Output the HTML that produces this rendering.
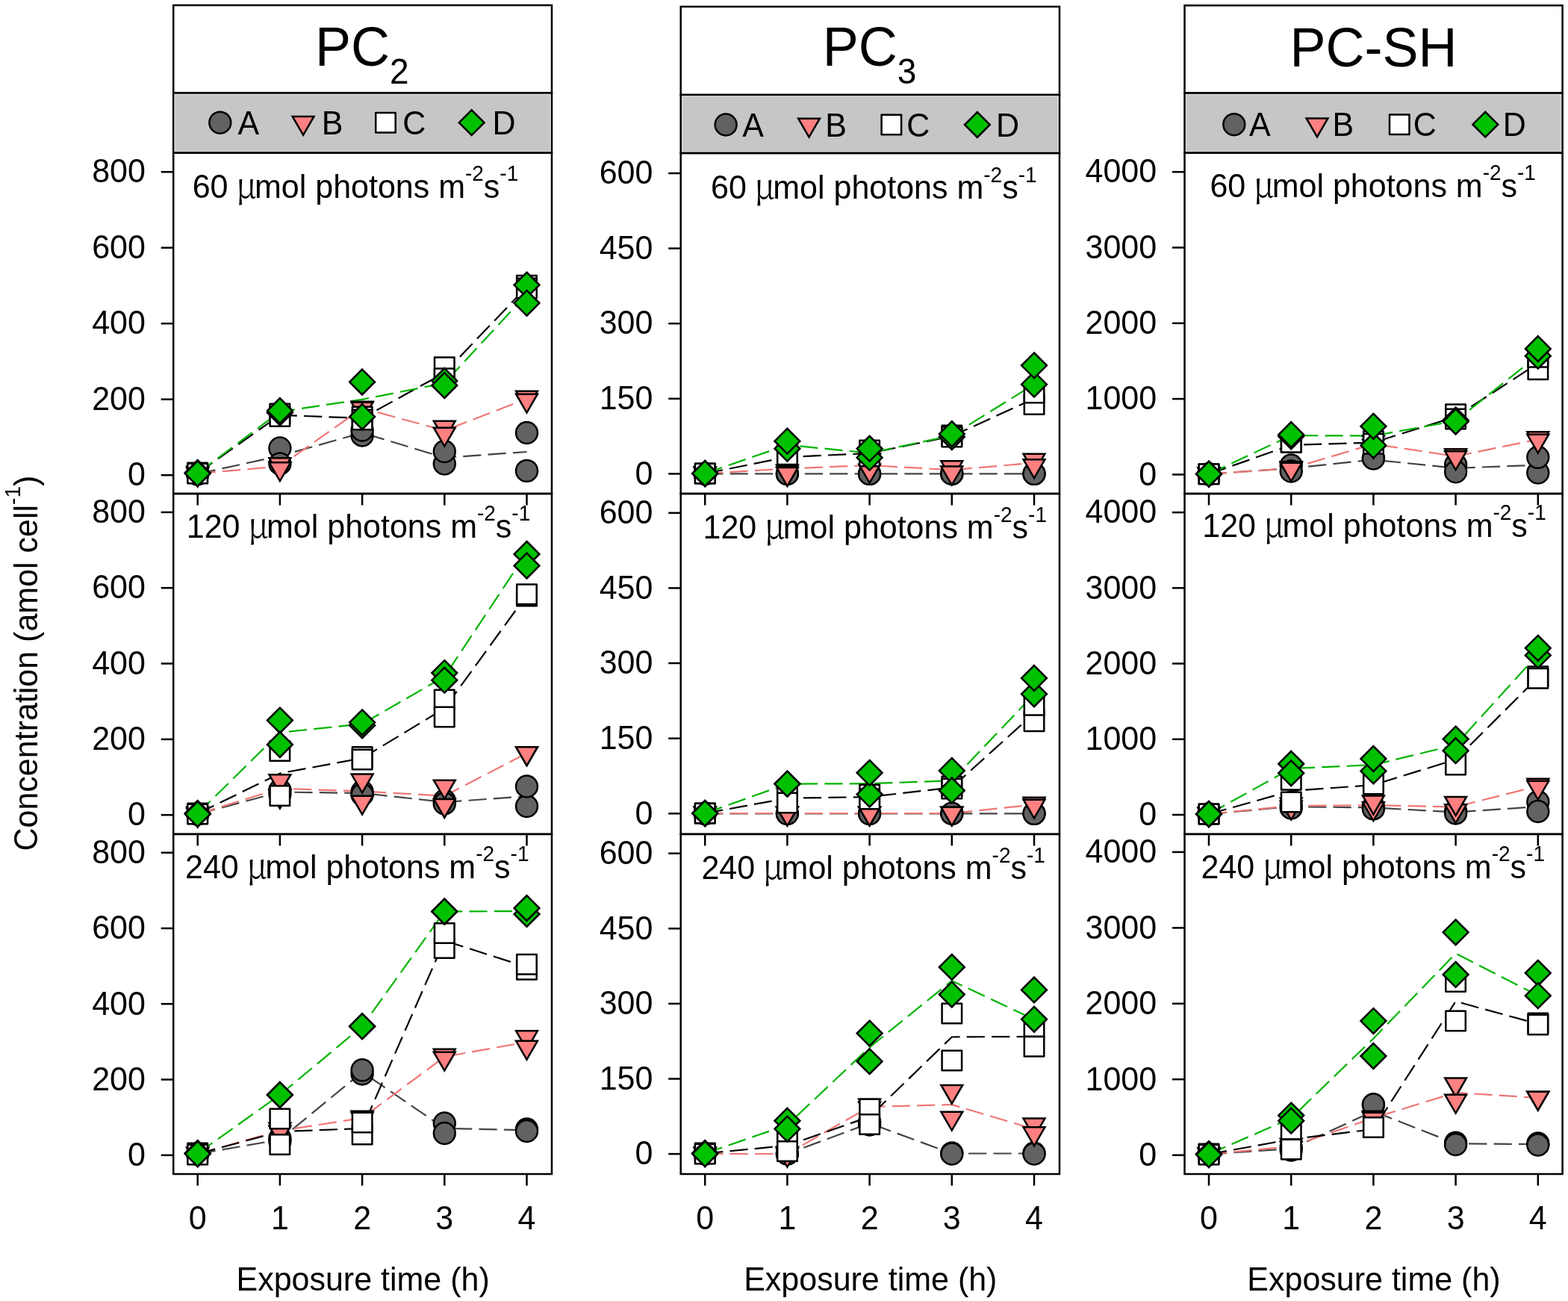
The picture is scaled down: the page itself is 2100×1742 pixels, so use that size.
<!DOCTYPE html><html><head><meta charset="utf-8"><style>html,body{margin:0;padding:0;background:#fff}svg{display:block}text{font-family:"Liberation Sans",Arial,sans-serif;fill:#000}</style></head><body>
<svg width="2100" height="1742" viewBox="0 0 2100 1742">
<rect width="2100" height="1742" fill="#fff"/>
<text transform="translate(49.5,1139.5) rotate(-90) scale(1,1.04)" font-size="43">Concentration (amol cell<tspan dy="-22" font-size="28">-1</tspan><tspan dy="22">)</tspan></text>
<rect x="232.2" y="7.0" width="506.8" height="117.5" fill="#fff" stroke="#000" stroke-width="2.5"/>
<rect x="232.2" y="124.5" width="506.8" height="80.19999999999999" fill="#c6c6c6" stroke="#000" stroke-width="2.5"/>
<rect x="234.39999999999998" y="126.7" width="502.40000000000003" height="75.79999999999998" fill="none" stroke="#d4d4d4" stroke-width="1.6"/>
<text transform="translate(422.0,88.3) scale(1,1.04)" font-size="72">PC<tspan dy="23.2" font-size="46">2</tspan></text>
<circle cx="294.8" cy="164.2" r="14.45" fill="#626262" stroke="#000" stroke-width="2.5"/>
<text transform="translate(318.6,179.9) scale(1,1.04)" font-size="43">A</text>
<path d="M391.7,155.9H420.5L406.1,180.8Z" fill="#ff8080" stroke="#000" stroke-width="2.5" stroke-linejoin="miter"/>
<text transform="translate(430.7,179.9) scale(1,1.04)" font-size="43">B</text>
<rect x="503.2" y="150.9" width="26.5" height="26.5" fill="#fff" stroke="#000" stroke-width="2.5" stroke-linejoin="round"/>
<text transform="translate(539.3,179.9) scale(1,1.04)" font-size="43">C</text>
<path d="M631.7,147.3L648.6,164.2L631.7,181.1L614.8,164.2Z" fill="#00c000" stroke="#000" stroke-width="2.5" stroke-linejoin="miter"/>
<text transform="translate(659.5,179.9) scale(1,1.04)" font-size="43">D</text>
<rect x="232.2" y="204.7" width="506.8" height="456.3" fill="none" stroke="#000" stroke-width="2.5"/>
<line x1="215.7" y1="230.2" x2="232.2" y2="230.2" stroke="#000" stroke-width="2.5"/>
<text transform="translate(194.9,244.4) scale(1,1.04)" font-size="43" text-anchor="end">800</text>
<line x1="215.7" y1="331.7" x2="232.2" y2="331.7" stroke="#000" stroke-width="2.5"/>
<text transform="translate(194.9,345.9) scale(1,1.04)" font-size="43" text-anchor="end">600</text>
<line x1="215.7" y1="433.2" x2="232.2" y2="433.2" stroke="#000" stroke-width="2.5"/>
<text transform="translate(194.9,447.4) scale(1,1.04)" font-size="43" text-anchor="end">400</text>
<line x1="215.7" y1="534.7" x2="232.2" y2="534.7" stroke="#000" stroke-width="2.5"/>
<text transform="translate(194.9,548.9) scale(1,1.04)" font-size="43" text-anchor="end">200</text>
<line x1="215.7" y1="636.2" x2="232.2" y2="636.2" stroke="#000" stroke-width="2.5"/>
<text transform="translate(194.9,650.4) scale(1,1.04)" font-size="43" text-anchor="end">0</text>
<line x1="264.7" y1="661.0" x2="264.7" y2="676.5" stroke="#000" stroke-width="2.5"/>
<line x1="374.9" y1="661.0" x2="374.9" y2="676.5" stroke="#000" stroke-width="2.5"/>
<line x1="485.1" y1="661.0" x2="485.1" y2="676.5" stroke="#000" stroke-width="2.5"/>
<line x1="595.3" y1="661.0" x2="595.3" y2="676.5" stroke="#000" stroke-width="2.5"/>
<line x1="705.5" y1="661.0" x2="705.5" y2="676.5" stroke="#000" stroke-width="2.5"/>
<text transform="translate(257.7,264.7) scale(1,1.04)" font-size="43">60 <tspan font-family="Noto Serif CJK SC, serif" font-size="44" dx="-1.5">μ</tspan><tspan dx="-2.5">mol photons m</tspan><tspan dy="-21.5" font-size="28">-2</tspan><tspan dy="21.5">s</tspan><tspan dy="-21.5" font-size="28">-1</tspan></text>
<g fill="none" stroke-width="2.2" stroke-dasharray="24.2,9.2">
<polyline points="264.7,634.5 374.9,610.5 485.1,579.5 595.3,612.8 705.5,605.0" stroke="#444444"/>
<polyline points="264.7,634.0 374.9,624.5 485.1,546.5 595.3,576.5 705.5,534.0" stroke="#f07676"/>
<polyline points="264.7,633.5 374.9,555.8 485.1,560.0 595.3,499.2 705.5,384.2" stroke="#000000"/>
<polyline points="264.7,633.5 374.9,551.2 485.1,534.8 595.3,513.0 705.5,393.7" stroke="#00b400"/>
</g>
<circle cx="264.7" cy="634.0" r="14.45" fill="#626262" stroke="#000" stroke-width="2.5"/>
<circle cx="264.7" cy="635.0" r="14.45" fill="#626262" stroke="#000" stroke-width="2.5"/>
<circle cx="374.9" cy="600.0" r="14.45" fill="#626262" stroke="#000" stroke-width="2.5"/>
<circle cx="374.9" cy="621.0" r="14.45" fill="#626262" stroke="#000" stroke-width="2.5"/>
<circle cx="485.1" cy="583.0" r="14.45" fill="#626262" stroke="#000" stroke-width="2.5"/>
<circle cx="485.1" cy="576.0" r="14.45" fill="#626262" stroke="#000" stroke-width="2.5"/>
<circle cx="595.3" cy="621.0" r="14.45" fill="#626262" stroke="#000" stroke-width="2.5"/>
<circle cx="595.3" cy="604.5" r="14.45" fill="#626262" stroke="#000" stroke-width="2.5"/>
<circle cx="705.5" cy="579.5" r="14.45" fill="#626262" stroke="#000" stroke-width="2.5"/>
<circle cx="705.5" cy="630.4" r="14.45" fill="#626262" stroke="#000" stroke-width="2.5"/>
<path d="M250.3,624.7H279.1L264.7,649.6Z" fill="#ff8080" stroke="#000" stroke-width="2.5" stroke-linejoin="miter"/>
<path d="M250.3,626.7H279.1L264.7,651.6Z" fill="#ff8080" stroke="#000" stroke-width="2.5" stroke-linejoin="miter"/>
<path d="M360.5,613.2H389.3L374.9,638.1Z" fill="#ff8080" stroke="#000" stroke-width="2.5" stroke-linejoin="miter"/>
<path d="M360.5,619.2H389.3L374.9,644.1Z" fill="#ff8080" stroke="#000" stroke-width="2.5" stroke-linejoin="miter"/>
<path d="M470.7,537.7H499.5L485.1,562.6Z" fill="#ff8080" stroke="#000" stroke-width="2.5" stroke-linejoin="miter"/>
<path d="M470.7,538.7H499.5L485.1,563.6Z" fill="#ff8080" stroke="#000" stroke-width="2.5" stroke-linejoin="miter"/>
<path d="M580.9,563.7H609.7L595.3,588.6Z" fill="#ff8080" stroke="#000" stroke-width="2.5" stroke-linejoin="miter"/>
<path d="M580.9,572.7H609.7L595.3,597.6Z" fill="#ff8080" stroke="#000" stroke-width="2.5" stroke-linejoin="miter"/>
<path d="M691.1,523.7H719.9L705.5,548.6Z" fill="#ff8080" stroke="#000" stroke-width="2.5" stroke-linejoin="miter"/>
<path d="M691.1,527.7H719.9L705.5,552.6Z" fill="#ff8080" stroke="#000" stroke-width="2.5" stroke-linejoin="miter"/>
<rect x="251.4" y="619.8" width="26.5" height="26.5" fill="#fff" stroke="#000" stroke-width="2.5" stroke-linejoin="round"/>
<rect x="251.4" y="620.8" width="26.5" height="26.5" fill="#fff" stroke="#000" stroke-width="2.5" stroke-linejoin="round"/>
<rect x="361.6" y="540.8" width="26.5" height="26.5" fill="#fff" stroke="#000" stroke-width="2.5" stroke-linejoin="round"/>
<rect x="361.6" y="544.2" width="26.5" height="26.5" fill="#fff" stroke="#000" stroke-width="2.5" stroke-linejoin="round"/>
<rect x="471.9" y="544.8" width="26.5" height="26.5" fill="#fff" stroke="#000" stroke-width="2.5" stroke-linejoin="round"/>
<rect x="471.9" y="548.8" width="26.5" height="26.5" fill="#fff" stroke="#000" stroke-width="2.5" stroke-linejoin="round"/>
<rect x="582.0" y="478.4" width="26.5" height="26.5" fill="#fff" stroke="#000" stroke-width="2.5" stroke-linejoin="round"/>
<rect x="582.0" y="493.4" width="26.5" height="26.5" fill="#fff" stroke="#000" stroke-width="2.5" stroke-linejoin="round"/>
<rect x="692.2" y="369.1" width="26.5" height="26.5" fill="#fff" stroke="#000" stroke-width="2.5" stroke-linejoin="round"/>
<rect x="692.2" y="372.8" width="26.5" height="26.5" fill="#fff" stroke="#000" stroke-width="2.5" stroke-linejoin="round"/>
<path d="M264.7,616.1L281.6,633.0L264.7,649.9L247.8,633.0Z" fill="#00c000" stroke="#000" stroke-width="2.5" stroke-linejoin="miter"/>
<path d="M264.7,617.1L281.6,634.0L264.7,650.9L247.8,634.0Z" fill="#00c000" stroke="#000" stroke-width="2.5" stroke-linejoin="miter"/>
<path d="M374.9,535.6L391.8,552.5L374.9,569.4L358.0,552.5Z" fill="#00c000" stroke="#000" stroke-width="2.5" stroke-linejoin="miter"/>
<path d="M374.9,533.1L391.8,550.0L374.9,566.9L358.0,550.0Z" fill="#00c000" stroke="#000" stroke-width="2.5" stroke-linejoin="miter"/>
<path d="M485.1,494.6L502.0,511.5L485.1,528.4L468.2,511.5Z" fill="#00c000" stroke="#000" stroke-width="2.5" stroke-linejoin="miter"/>
<path d="M485.1,541.1L502.0,558.0L485.1,574.9L468.2,558.0Z" fill="#00c000" stroke="#000" stroke-width="2.5" stroke-linejoin="miter"/>
<path d="M595.3,493.1L612.2,510.0L595.3,526.9L578.4,510.0Z" fill="#00c000" stroke="#000" stroke-width="2.5" stroke-linejoin="miter"/>
<path d="M595.3,499.1L612.2,516.0L595.3,532.9L578.4,516.0Z" fill="#00c000" stroke="#000" stroke-width="2.5" stroke-linejoin="miter"/>
<path d="M705.5,364.7L722.4,381.6L705.5,398.5L688.6,381.6Z" fill="#00c000" stroke="#000" stroke-width="2.5" stroke-linejoin="miter"/>
<path d="M705.5,388.9L722.4,405.8L705.5,422.7L688.6,405.8Z" fill="#00c000" stroke="#000" stroke-width="2.5" stroke-linejoin="miter"/>
<rect x="232.2" y="661.0" width="506.8" height="455.9000000000001" fill="none" stroke="#000" stroke-width="2.5"/>
<line x1="215.7" y1="685.9" x2="232.2" y2="685.9" stroke="#000" stroke-width="2.5"/>
<text transform="translate(194.9,700.1) scale(1,1.04)" font-size="43" text-anchor="end">800</text>
<line x1="215.7" y1="787.2" x2="232.2" y2="787.2" stroke="#000" stroke-width="2.5"/>
<text transform="translate(194.9,801.4) scale(1,1.04)" font-size="43" text-anchor="end">600</text>
<line x1="215.7" y1="888.5" x2="232.2" y2="888.5" stroke="#000" stroke-width="2.5"/>
<text transform="translate(194.9,902.8) scale(1,1.04)" font-size="43" text-anchor="end">400</text>
<line x1="215.7" y1="989.9" x2="232.2" y2="989.9" stroke="#000" stroke-width="2.5"/>
<text transform="translate(194.9,1004.1) scale(1,1.04)" font-size="43" text-anchor="end">200</text>
<line x1="215.7" y1="1091.2" x2="232.2" y2="1091.2" stroke="#000" stroke-width="2.5"/>
<text transform="translate(194.9,1105.4) scale(1,1.04)" font-size="43" text-anchor="end">0</text>
<line x1="264.7" y1="1116.9" x2="264.7" y2="1132.4" stroke="#000" stroke-width="2.5"/>
<line x1="374.9" y1="1116.9" x2="374.9" y2="1132.4" stroke="#000" stroke-width="2.5"/>
<line x1="485.1" y1="1116.9" x2="485.1" y2="1132.4" stroke="#000" stroke-width="2.5"/>
<line x1="595.3" y1="1116.9" x2="595.3" y2="1132.4" stroke="#000" stroke-width="2.5"/>
<line x1="705.5" y1="1116.9" x2="705.5" y2="1132.4" stroke="#000" stroke-width="2.5"/>
<text transform="translate(249.8,719.8) scale(1,1.04)" font-size="43">120 <tspan font-family="Noto Serif CJK SC, serif" font-size="44" dx="-1.5">μ</tspan><tspan dx="-2.5">mol photons m</tspan><tspan dy="-21.5" font-size="28">-2</tspan><tspan dy="21.5">s</tspan><tspan dy="-21.5" font-size="28">-1</tspan></text>
<g fill="none" stroke-width="2.2" stroke-dasharray="24.2,9.2">
<polyline points="264.7,1090.0 374.9,1060.5 485.1,1062.0 595.3,1074.0 705.5,1066.2" stroke="#444444"/>
<polyline points="264.7,1090.0 374.9,1055.8 485.1,1059.5 595.3,1065.7 705.5,1008.5" stroke="#f07676"/>
<polyline points="264.7,1089.5 374.9,1035.5 485.1,1015.2 595.3,948.5 705.5,796.8" stroke="#000000"/>
<polyline points="264.7,1089.5 374.9,980.8 485.1,969.3 595.3,905.9 705.5,740.0" stroke="#00b400"/>
</g>
<circle cx="264.7" cy="1090.0" r="14.45" fill="#626262" stroke="#000" stroke-width="2.5"/>
<circle cx="264.7" cy="1090.0" r="14.45" fill="#626262" stroke="#000" stroke-width="2.5"/>
<circle cx="374.9" cy="1058.0" r="14.45" fill="#626262" stroke="#000" stroke-width="2.5"/>
<circle cx="374.9" cy="1063.0" r="14.45" fill="#626262" stroke="#000" stroke-width="2.5"/>
<circle cx="485.1" cy="1060.0" r="14.45" fill="#626262" stroke="#000" stroke-width="2.5"/>
<circle cx="485.1" cy="1064.0" r="14.45" fill="#626262" stroke="#000" stroke-width="2.5"/>
<circle cx="595.3" cy="1072.0" r="14.45" fill="#626262" stroke="#000" stroke-width="2.5"/>
<circle cx="595.3" cy="1076.0" r="14.45" fill="#626262" stroke="#000" stroke-width="2.5"/>
<circle cx="705.5" cy="1079.5" r="14.45" fill="#626262" stroke="#000" stroke-width="2.5"/>
<circle cx="705.5" cy="1053.0" r="14.45" fill="#626262" stroke="#000" stroke-width="2.5"/>
<path d="M250.3,1080.7H279.1L264.7,1105.6Z" fill="#ff8080" stroke="#000" stroke-width="2.5" stroke-linejoin="miter"/>
<path d="M250.3,1082.7H279.1L264.7,1107.6Z" fill="#ff8080" stroke="#000" stroke-width="2.5" stroke-linejoin="miter"/>
<path d="M360.5,1037.2H389.3L374.9,1062.1Z" fill="#ff8080" stroke="#000" stroke-width="2.5" stroke-linejoin="miter"/>
<path d="M360.5,1057.7H389.3L374.9,1082.6Z" fill="#ff8080" stroke="#000" stroke-width="2.5" stroke-linejoin="miter"/>
<path d="M470.7,1036.6H499.5L485.1,1061.5Z" fill="#ff8080" stroke="#000" stroke-width="2.5" stroke-linejoin="miter"/>
<path d="M470.7,1065.7H499.5L485.1,1090.6Z" fill="#ff8080" stroke="#000" stroke-width="2.5" stroke-linejoin="miter"/>
<path d="M580.9,1044.7H609.7L595.3,1069.6Z" fill="#ff8080" stroke="#000" stroke-width="2.5" stroke-linejoin="miter"/>
<path d="M580.9,1070.0H609.7L595.3,1094.9Z" fill="#ff8080" stroke="#000" stroke-width="2.5" stroke-linejoin="miter"/>
<path d="M691.1,1000.2H719.9L705.5,1025.1Z" fill="#ff8080" stroke="#000" stroke-width="2.5" stroke-linejoin="miter"/>
<path d="M691.1,1000.2H719.9L705.5,1025.1Z" fill="#ff8080" stroke="#000" stroke-width="2.5" stroke-linejoin="miter"/>
<rect x="251.4" y="1075.8" width="26.5" height="26.5" fill="#fff" stroke="#000" stroke-width="2.5" stroke-linejoin="round"/>
<rect x="251.4" y="1076.8" width="26.5" height="26.5" fill="#fff" stroke="#000" stroke-width="2.5" stroke-linejoin="round"/>
<rect x="361.6" y="992.2" width="26.5" height="26.5" fill="#fff" stroke="#000" stroke-width="2.5" stroke-linejoin="round"/>
<rect x="361.6" y="1052.3" width="26.5" height="26.5" fill="#fff" stroke="#000" stroke-width="2.5" stroke-linejoin="round"/>
<rect x="471.9" y="1000.2" width="26.5" height="26.5" fill="#fff" stroke="#000" stroke-width="2.5" stroke-linejoin="round"/>
<rect x="471.9" y="1003.8" width="26.5" height="26.5" fill="#fff" stroke="#000" stroke-width="2.5" stroke-linejoin="round"/>
<rect x="582.0" y="923.8" width="26.5" height="26.5" fill="#fff" stroke="#000" stroke-width="2.5" stroke-linejoin="round"/>
<rect x="582.0" y="946.8" width="26.5" height="26.5" fill="#fff" stroke="#000" stroke-width="2.5" stroke-linejoin="round"/>
<rect x="692.2" y="784.8" width="26.5" height="26.5" fill="#fff" stroke="#000" stroke-width="2.5" stroke-linejoin="round"/>
<rect x="692.2" y="782.4" width="26.5" height="26.5" fill="#fff" stroke="#000" stroke-width="2.5" stroke-linejoin="round"/>
<path d="M264.7,1072.1L281.6,1089.0L264.7,1105.9L247.8,1089.0Z" fill="#00c000" stroke="#000" stroke-width="2.5" stroke-linejoin="miter"/>
<path d="M264.7,1073.1L281.6,1090.0L264.7,1106.9L247.8,1090.0Z" fill="#00c000" stroke="#000" stroke-width="2.5" stroke-linejoin="miter"/>
<path d="M374.9,947.7L391.8,964.6L374.9,981.5L358.0,964.6Z" fill="#00c000" stroke="#000" stroke-width="2.5" stroke-linejoin="miter"/>
<path d="M374.9,980.1L391.8,997.0L374.9,1013.9L358.0,997.0Z" fill="#00c000" stroke="#000" stroke-width="2.5" stroke-linejoin="miter"/>
<path d="M485.1,954.4L502.0,971.3L485.1,988.2L468.2,971.3Z" fill="#00c000" stroke="#000" stroke-width="2.5" stroke-linejoin="miter"/>
<path d="M485.1,950.4L502.0,967.3L485.1,984.2L468.2,967.3Z" fill="#00c000" stroke="#000" stroke-width="2.5" stroke-linejoin="miter"/>
<path d="M595.3,884.2L612.2,901.1L595.3,918.0L578.4,901.1Z" fill="#00c000" stroke="#000" stroke-width="2.5" stroke-linejoin="miter"/>
<path d="M595.3,893.8L612.2,910.7L595.3,927.6L578.4,910.7Z" fill="#00c000" stroke="#000" stroke-width="2.5" stroke-linejoin="miter"/>
<path d="M705.5,725.0L722.4,741.9L705.5,758.8L688.6,741.9Z" fill="#00c000" stroke="#000" stroke-width="2.5" stroke-linejoin="miter"/>
<path d="M705.5,740.6L722.4,757.5L705.5,774.4L688.6,757.5Z" fill="#00c000" stroke="#000" stroke-width="2.5" stroke-linejoin="miter"/>
<rect x="232.2" y="1116.9" width="506.8" height="455.0999999999999" fill="none" stroke="#000" stroke-width="2.5"/>
<line x1="215.7" y1="1141.7" x2="232.2" y2="1141.7" stroke="#000" stroke-width="2.5"/>
<text transform="translate(194.9,1155.9) scale(1,1.04)" font-size="43" text-anchor="end">800</text>
<line x1="215.7" y1="1243.0" x2="232.2" y2="1243.0" stroke="#000" stroke-width="2.5"/>
<text transform="translate(194.9,1257.2) scale(1,1.04)" font-size="43" text-anchor="end">600</text>
<line x1="215.7" y1="1344.2" x2="232.2" y2="1344.2" stroke="#000" stroke-width="2.5"/>
<text transform="translate(194.9,1358.5) scale(1,1.04)" font-size="43" text-anchor="end">400</text>
<line x1="215.7" y1="1445.5" x2="232.2" y2="1445.5" stroke="#000" stroke-width="2.5"/>
<text transform="translate(194.9,1459.7) scale(1,1.04)" font-size="43" text-anchor="end">200</text>
<line x1="215.7" y1="1546.8" x2="232.2" y2="1546.8" stroke="#000" stroke-width="2.5"/>
<text transform="translate(194.9,1561.0) scale(1,1.04)" font-size="43" text-anchor="end">0</text>
<line x1="264.7" y1="1572.0" x2="264.7" y2="1587.5" stroke="#000" stroke-width="2.5"/>
<line x1="374.9" y1="1572.0" x2="374.9" y2="1587.5" stroke="#000" stroke-width="2.5"/>
<line x1="485.1" y1="1572.0" x2="485.1" y2="1587.5" stroke="#000" stroke-width="2.5"/>
<line x1="595.3" y1="1572.0" x2="595.3" y2="1587.5" stroke="#000" stroke-width="2.5"/>
<line x1="705.5" y1="1572.0" x2="705.5" y2="1587.5" stroke="#000" stroke-width="2.5"/>
<text transform="translate(248.0,1175.7) scale(1,1.04)" font-size="43">240 <tspan font-family="Noto Serif CJK SC, serif" font-size="44" dx="-1.5">μ</tspan><tspan dx="-2.5">mol photons m</tspan><tspan dy="-21.5" font-size="28">-2</tspan><tspan dy="21.5">s</tspan><tspan dy="-21.5" font-size="28">-1</tspan></text>
<g fill="none" stroke-width="2.2" stroke-dasharray="24.2,9.2">
<polyline points="264.7,1545.0 374.9,1526.0 485.1,1435.4 595.3,1510.8 705.5,1513.2" stroke="#444444"/>
<polyline points="264.7,1545.0 374.9,1514.0 485.1,1497.0 595.3,1415.0 705.5,1395.3" stroke="#f07676"/>
<polyline points="264.7,1545.0 374.9,1515.2 485.1,1511.0 595.3,1259.5 705.5,1294.8" stroke="#000000"/>
<polyline points="264.7,1544.5 374.9,1466.0 485.1,1374.2 595.3,1220.5 705.5,1220.0" stroke="#00b400"/>
</g>
<circle cx="264.7" cy="1545.0" r="14.45" fill="#626262" stroke="#000" stroke-width="2.5"/>
<circle cx="264.7" cy="1545.0" r="14.45" fill="#626262" stroke="#000" stroke-width="2.5"/>
<circle cx="374.9" cy="1524.0" r="14.45" fill="#626262" stroke="#000" stroke-width="2.5"/>
<circle cx="374.9" cy="1528.0" r="14.45" fill="#626262" stroke="#000" stroke-width="2.5"/>
<circle cx="485.1" cy="1438.0" r="14.45" fill="#626262" stroke="#000" stroke-width="2.5"/>
<circle cx="485.1" cy="1432.8" r="14.45" fill="#626262" stroke="#000" stroke-width="2.5"/>
<circle cx="595.3" cy="1504.0" r="14.45" fill="#626262" stroke="#000" stroke-width="2.5"/>
<circle cx="595.3" cy="1517.5" r="14.45" fill="#626262" stroke="#000" stroke-width="2.5"/>
<circle cx="705.5" cy="1512.0" r="14.45" fill="#626262" stroke="#000" stroke-width="2.5"/>
<circle cx="705.5" cy="1514.5" r="14.45" fill="#626262" stroke="#000" stroke-width="2.5"/>
<path d="M250.3,1536.7H279.1L264.7,1561.6Z" fill="#ff8080" stroke="#000" stroke-width="2.5" stroke-linejoin="miter"/>
<path d="M250.3,1536.7H279.1L264.7,1561.6Z" fill="#ff8080" stroke="#000" stroke-width="2.5" stroke-linejoin="miter"/>
<path d="M360.5,1503.7H389.3L374.9,1528.6Z" fill="#ff8080" stroke="#000" stroke-width="2.5" stroke-linejoin="miter"/>
<path d="M360.5,1507.7H389.3L374.9,1532.6Z" fill="#ff8080" stroke="#000" stroke-width="2.5" stroke-linejoin="miter"/>
<path d="M470.7,1487.7H499.5L485.1,1512.6Z" fill="#ff8080" stroke="#000" stroke-width="2.5" stroke-linejoin="miter"/>
<path d="M470.7,1489.7H499.5L485.1,1514.6Z" fill="#ff8080" stroke="#000" stroke-width="2.5" stroke-linejoin="miter"/>
<path d="M580.9,1404.7H609.7L595.3,1429.6Z" fill="#ff8080" stroke="#000" stroke-width="2.5" stroke-linejoin="miter"/>
<path d="M580.9,1408.7H609.7L595.3,1433.6Z" fill="#ff8080" stroke="#000" stroke-width="2.5" stroke-linejoin="miter"/>
<path d="M691.1,1380.3H719.9L705.5,1405.2Z" fill="#ff8080" stroke="#000" stroke-width="2.5" stroke-linejoin="miter"/>
<path d="M691.1,1393.8H719.9L705.5,1418.7Z" fill="#ff8080" stroke="#000" stroke-width="2.5" stroke-linejoin="miter"/>
<rect x="251.4" y="1530.8" width="26.5" height="26.5" fill="#fff" stroke="#000" stroke-width="2.5" stroke-linejoin="round"/>
<rect x="251.4" y="1532.8" width="26.5" height="26.5" fill="#fff" stroke="#000" stroke-width="2.5" stroke-linejoin="round"/>
<rect x="361.6" y="1484.8" width="26.5" height="26.5" fill="#fff" stroke="#000" stroke-width="2.5" stroke-linejoin="round"/>
<rect x="361.6" y="1519.2" width="26.5" height="26.5" fill="#fff" stroke="#000" stroke-width="2.5" stroke-linejoin="round"/>
<rect x="471.9" y="1505.8" width="26.5" height="26.5" fill="#fff" stroke="#000" stroke-width="2.5" stroke-linejoin="round"/>
<rect x="471.9" y="1489.8" width="26.5" height="26.5" fill="#fff" stroke="#000" stroke-width="2.5" stroke-linejoin="round"/>
<rect x="582.0" y="1256.2" width="26.5" height="26.5" fill="#fff" stroke="#000" stroke-width="2.5" stroke-linejoin="round"/>
<rect x="582.0" y="1236.3" width="26.5" height="26.5" fill="#fff" stroke="#000" stroke-width="2.5" stroke-linejoin="round"/>
<rect x="692.2" y="1285.0" width="26.5" height="26.5" fill="#fff" stroke="#000" stroke-width="2.5" stroke-linejoin="round"/>
<rect x="692.2" y="1278.0" width="26.5" height="26.5" fill="#fff" stroke="#000" stroke-width="2.5" stroke-linejoin="round"/>
<path d="M264.7,1527.1L281.6,1544.0L264.7,1560.9L247.8,1544.0Z" fill="#00c000" stroke="#000" stroke-width="2.5" stroke-linejoin="miter"/>
<path d="M264.7,1528.1L281.6,1545.0L264.7,1561.9L247.8,1545.0Z" fill="#00c000" stroke="#000" stroke-width="2.5" stroke-linejoin="miter"/>
<path d="M374.9,1449.1L391.8,1466.0L374.9,1482.9L358.0,1466.0Z" fill="#00c000" stroke="#000" stroke-width="2.5" stroke-linejoin="miter"/>
<path d="M374.9,1449.1L391.8,1466.0L374.9,1482.9L358.0,1466.0Z" fill="#00c000" stroke="#000" stroke-width="2.5" stroke-linejoin="miter"/>
<path d="M485.1,1357.3L502.0,1374.2L485.1,1391.1L468.2,1374.2Z" fill="#00c000" stroke="#000" stroke-width="2.5" stroke-linejoin="miter"/>
<path d="M485.1,1357.3L502.0,1374.2L485.1,1391.1L468.2,1374.2Z" fill="#00c000" stroke="#000" stroke-width="2.5" stroke-linejoin="miter"/>
<path d="M595.3,1203.6L612.2,1220.5L595.3,1237.4L578.4,1220.5Z" fill="#00c000" stroke="#000" stroke-width="2.5" stroke-linejoin="miter"/>
<path d="M595.3,1203.6L612.2,1220.5L595.3,1237.4L578.4,1220.5Z" fill="#00c000" stroke="#000" stroke-width="2.5" stroke-linejoin="miter"/>
<path d="M705.5,1207.0L722.4,1223.9L705.5,1240.8L688.6,1223.9Z" fill="#00c000" stroke="#000" stroke-width="2.5" stroke-linejoin="miter"/>
<path d="M705.5,1199.1L722.4,1216.0L705.5,1232.9L688.6,1216.0Z" fill="#00c000" stroke="#000" stroke-width="2.5" stroke-linejoin="miter"/>
<text transform="translate(264.7,1646.0) scale(1,1.04)" font-size="43" text-anchor="middle">0</text>
<text transform="translate(374.9,1646.0) scale(1,1.04)" font-size="43" text-anchor="middle">1</text>
<text transform="translate(485.1,1646.0) scale(1,1.04)" font-size="43" text-anchor="middle">2</text>
<text transform="translate(595.3,1646.0) scale(1,1.04)" font-size="43" text-anchor="middle">3</text>
<text transform="translate(705.5,1646.0) scale(1,1.04)" font-size="43" text-anchor="middle">4</text>
<text transform="translate(486.1,1727.5) scale(1,1.04)" font-size="43" text-anchor="middle">Exposure time (h)</text>
<rect x="911.7" y="8.9" width="507.29999999999995" height="118.1" fill="#fff" stroke="#000" stroke-width="2.5"/>
<rect x="911.7" y="127.0" width="507.29999999999995" height="78.0" fill="#c6c6c6" stroke="#000" stroke-width="2.5"/>
<rect x="913.9000000000001" y="129.2" width="502.9" height="73.6" fill="none" stroke="#d4d4d4" stroke-width="1.6"/>
<text transform="translate(1101.8,88.3) scale(1,1.04)" font-size="72">PC<tspan dy="23.2" font-size="46">3</tspan></text>
<circle cx="972.1" cy="167.0" r="14.45" fill="#626262" stroke="#000" stroke-width="2.5"/>
<text transform="translate(994.2,182.6) scale(1,1.04)" font-size="43">A</text>
<path d="M1069.1,158.7H1097.9L1083.5,183.6Z" fill="#ff8080" stroke="#000" stroke-width="2.5" stroke-linejoin="miter"/>
<text transform="translate(1105.2,182.6) scale(1,1.04)" font-size="43">B</text>
<rect x="1180.6" y="153.8" width="26.5" height="26.5" fill="#fff" stroke="#000" stroke-width="2.5" stroke-linejoin="round"/>
<text transform="translate(1214.3,182.6) scale(1,1.04)" font-size="43">C</text>
<path d="M1308.9,150.1L1325.8,167.0L1308.9,183.9L1292.0,167.0Z" fill="#00c000" stroke="#000" stroke-width="2.5" stroke-linejoin="miter"/>
<text transform="translate(1334.1,182.6) scale(1,1.04)" font-size="43">D</text>
<rect x="911.7" y="205.0" width="507.29999999999995" height="456.0" fill="none" stroke="#000" stroke-width="2.5"/>
<line x1="895.2" y1="232.0" x2="911.7" y2="232.0" stroke="#000" stroke-width="2.5"/>
<text transform="translate(874.4,246.2) scale(1,1.04)" font-size="43" text-anchor="end">600</text>
<line x1="895.2" y1="332.6" x2="911.7" y2="332.6" stroke="#000" stroke-width="2.5"/>
<text transform="translate(874.4,346.8) scale(1,1.04)" font-size="43" text-anchor="end">450</text>
<line x1="895.2" y1="433.2" x2="911.7" y2="433.2" stroke="#000" stroke-width="2.5"/>
<text transform="translate(874.4,447.4) scale(1,1.04)" font-size="43" text-anchor="end">300</text>
<line x1="895.2" y1="533.8" x2="911.7" y2="533.8" stroke="#000" stroke-width="2.5"/>
<text transform="translate(874.4,548.0) scale(1,1.04)" font-size="43" text-anchor="end">150</text>
<line x1="895.2" y1="634.4" x2="911.7" y2="634.4" stroke="#000" stroke-width="2.5"/>
<text transform="translate(874.4,648.6) scale(1,1.04)" font-size="43" text-anchor="end">0</text>
<line x1="944.2" y1="661.0" x2="944.2" y2="676.5" stroke="#000" stroke-width="2.5"/>
<line x1="1054.4" y1="661.0" x2="1054.4" y2="676.5" stroke="#000" stroke-width="2.5"/>
<line x1="1164.6" y1="661.0" x2="1164.6" y2="676.5" stroke="#000" stroke-width="2.5"/>
<line x1="1274.8" y1="661.0" x2="1274.8" y2="676.5" stroke="#000" stroke-width="2.5"/>
<line x1="1385.0" y1="661.0" x2="1385.0" y2="676.5" stroke="#000" stroke-width="2.5"/>
<text transform="translate(952.0,265.9) scale(1,1.04)" font-size="43">60 <tspan font-family="Noto Serif CJK SC, serif" font-size="44" dx="-1.5">μ</tspan><tspan dx="-2.5">mol photons m</tspan><tspan dy="-21.5" font-size="28">-2</tspan><tspan dy="21.5">s</tspan><tspan dy="-21.5" font-size="28">-1</tspan></text>
<g fill="none" stroke-width="2.2" stroke-dasharray="24.2,9.2">
<polyline points="944.2,634.4 1054.4,634.4 1164.6,634.4 1274.8,634.4 1385.0,634.4" stroke="#444444"/>
<polyline points="944.2,634.0 1054.4,627.5 1164.6,623.0 1274.8,629.2 1385.0,619.8" stroke="#f07676"/>
<polyline points="944.2,634.0 1054.4,612.0 1164.6,607.0 1274.8,584.0 1385.0,533.8" stroke="#000000"/>
<polyline points="944.2,634.0 1054.4,595.7 1164.6,606.7 1274.8,583.0 1385.0,514.5" stroke="#00b400"/>
</g>
<circle cx="944.2" cy="634.4" r="14.45" fill="#626262" stroke="#000" stroke-width="2.5"/>
<circle cx="944.2" cy="634.4" r="14.45" fill="#626262" stroke="#000" stroke-width="2.5"/>
<circle cx="1054.4" cy="634.4" r="14.45" fill="#626262" stroke="#000" stroke-width="2.5"/>
<circle cx="1054.4" cy="634.4" r="14.45" fill="#626262" stroke="#000" stroke-width="2.5"/>
<circle cx="1164.6" cy="634.4" r="14.45" fill="#626262" stroke="#000" stroke-width="2.5"/>
<circle cx="1164.6" cy="634.4" r="14.45" fill="#626262" stroke="#000" stroke-width="2.5"/>
<circle cx="1274.8" cy="634.4" r="14.45" fill="#626262" stroke="#000" stroke-width="2.5"/>
<circle cx="1274.8" cy="634.4" r="14.45" fill="#626262" stroke="#000" stroke-width="2.5"/>
<circle cx="1385.0" cy="634.4" r="14.45" fill="#626262" stroke="#000" stroke-width="2.5"/>
<circle cx="1385.0" cy="634.4" r="14.45" fill="#626262" stroke="#000" stroke-width="2.5"/>
<path d="M929.8,625.7H958.6L944.2,650.6Z" fill="#ff8080" stroke="#000" stroke-width="2.5" stroke-linejoin="miter"/>
<path d="M929.8,625.7H958.6L944.2,650.6Z" fill="#ff8080" stroke="#000" stroke-width="2.5" stroke-linejoin="miter"/>
<path d="M1040.0,622.7H1068.8L1054.4,647.6Z" fill="#ff8080" stroke="#000" stroke-width="2.5" stroke-linejoin="miter"/>
<path d="M1040.0,626.0H1068.8L1054.4,650.9Z" fill="#ff8080" stroke="#000" stroke-width="2.5" stroke-linejoin="miter"/>
<path d="M1150.2,607.7H1179.0L1164.6,632.6Z" fill="#ff8080" stroke="#000" stroke-width="2.5" stroke-linejoin="miter"/>
<path d="M1150.2,621.7H1179.0L1164.6,646.6Z" fill="#ff8080" stroke="#000" stroke-width="2.5" stroke-linejoin="miter"/>
<path d="M1260.4,617.3H1289.2L1274.8,642.2Z" fill="#ff8080" stroke="#000" stroke-width="2.5" stroke-linejoin="miter"/>
<path d="M1260.4,624.6H1289.2L1274.8,649.5Z" fill="#ff8080" stroke="#000" stroke-width="2.5" stroke-linejoin="miter"/>
<path d="M1370.6,607.7H1399.4L1385.0,632.6Z" fill="#ff8080" stroke="#000" stroke-width="2.5" stroke-linejoin="miter"/>
<path d="M1370.6,615.2H1399.4L1385.0,640.1Z" fill="#ff8080" stroke="#000" stroke-width="2.5" stroke-linejoin="miter"/>
<rect x="931.0" y="620.8" width="26.5" height="26.5" fill="#fff" stroke="#000" stroke-width="2.5" stroke-linejoin="round"/>
<rect x="931.0" y="620.8" width="26.5" height="26.5" fill="#fff" stroke="#000" stroke-width="2.5" stroke-linejoin="round"/>
<rect x="1041.2" y="597.8" width="26.5" height="26.5" fill="#fff" stroke="#000" stroke-width="2.5" stroke-linejoin="round"/>
<rect x="1041.2" y="595.5" width="26.5" height="26.5" fill="#fff" stroke="#000" stroke-width="2.5" stroke-linejoin="round"/>
<rect x="1151.4" y="589.8" width="26.5" height="26.5" fill="#fff" stroke="#000" stroke-width="2.5" stroke-linejoin="round"/>
<rect x="1151.4" y="597.8" width="26.5" height="26.5" fill="#fff" stroke="#000" stroke-width="2.5" stroke-linejoin="round"/>
<rect x="1261.6" y="569.8" width="26.5" height="26.5" fill="#fff" stroke="#000" stroke-width="2.5" stroke-linejoin="round"/>
<rect x="1261.6" y="571.8" width="26.5" height="26.5" fill="#fff" stroke="#000" stroke-width="2.5" stroke-linejoin="round"/>
<rect x="1371.8" y="528.2" width="26.5" height="26.5" fill="#fff" stroke="#000" stroke-width="2.5" stroke-linejoin="round"/>
<rect x="1371.8" y="512.8" width="26.5" height="26.5" fill="#fff" stroke="#000" stroke-width="2.5" stroke-linejoin="round"/>
<path d="M944.2,617.1L961.1,634.0L944.2,650.9L927.3,634.0Z" fill="#00c000" stroke="#000" stroke-width="2.5" stroke-linejoin="miter"/>
<path d="M944.2,617.1L961.1,634.0L944.2,650.9L927.3,634.0Z" fill="#00c000" stroke="#000" stroke-width="2.5" stroke-linejoin="miter"/>
<path d="M1054.4,583.8L1071.3,600.7L1054.4,617.6L1037.5,600.7Z" fill="#00c000" stroke="#000" stroke-width="2.5" stroke-linejoin="miter"/>
<path d="M1054.4,573.8L1071.3,590.7L1054.4,607.6L1037.5,590.7Z" fill="#00c000" stroke="#000" stroke-width="2.5" stroke-linejoin="miter"/>
<path d="M1164.6,595.8L1181.5,612.7L1164.6,629.6L1147.7,612.7Z" fill="#00c000" stroke="#000" stroke-width="2.5" stroke-linejoin="miter"/>
<path d="M1164.6,583.8L1181.5,600.7L1164.6,617.6L1147.7,600.7Z" fill="#00c000" stroke="#000" stroke-width="2.5" stroke-linejoin="miter"/>
<path d="M1274.8,568.1L1291.7,585.0L1274.8,601.9L1257.9,585.0Z" fill="#00c000" stroke="#000" stroke-width="2.5" stroke-linejoin="miter"/>
<path d="M1274.8,564.1L1291.7,581.0L1274.8,597.9L1257.9,581.0Z" fill="#00c000" stroke="#000" stroke-width="2.5" stroke-linejoin="miter"/>
<path d="M1385.0,497.8L1401.9,514.7L1385.0,531.6L1368.1,514.7Z" fill="#00c000" stroke="#000" stroke-width="2.5" stroke-linejoin="miter"/>
<path d="M1385.0,472.4L1401.9,489.3L1385.0,506.2L1368.1,489.3Z" fill="#00c000" stroke="#000" stroke-width="2.5" stroke-linejoin="miter"/>
<rect x="911.7" y="661.0" width="507.29999999999995" height="455.9000000000001" fill="none" stroke="#000" stroke-width="2.5"/>
<line x1="895.2" y1="686.8" x2="911.7" y2="686.8" stroke="#000" stroke-width="2.5"/>
<text transform="translate(874.4,701.0) scale(1,1.04)" font-size="43" text-anchor="end">600</text>
<line x1="895.2" y1="787.4" x2="911.7" y2="787.4" stroke="#000" stroke-width="2.5"/>
<text transform="translate(874.4,801.6) scale(1,1.04)" font-size="43" text-anchor="end">450</text>
<line x1="895.2" y1="888.0" x2="911.7" y2="888.0" stroke="#000" stroke-width="2.5"/>
<text transform="translate(874.4,902.2) scale(1,1.04)" font-size="43" text-anchor="end">300</text>
<line x1="895.2" y1="988.7" x2="911.7" y2="988.7" stroke="#000" stroke-width="2.5"/>
<text transform="translate(874.4,1002.9) scale(1,1.04)" font-size="43" text-anchor="end">150</text>
<line x1="895.2" y1="1089.3" x2="911.7" y2="1089.3" stroke="#000" stroke-width="2.5"/>
<text transform="translate(874.4,1103.5) scale(1,1.04)" font-size="43" text-anchor="end">0</text>
<line x1="944.2" y1="1116.9" x2="944.2" y2="1132.4" stroke="#000" stroke-width="2.5"/>
<line x1="1054.4" y1="1116.9" x2="1054.4" y2="1132.4" stroke="#000" stroke-width="2.5"/>
<line x1="1164.6" y1="1116.9" x2="1164.6" y2="1132.4" stroke="#000" stroke-width="2.5"/>
<line x1="1274.8" y1="1116.9" x2="1274.8" y2="1132.4" stroke="#000" stroke-width="2.5"/>
<line x1="1385.0" y1="1116.9" x2="1385.0" y2="1132.4" stroke="#000" stroke-width="2.5"/>
<text transform="translate(941.5,721.0) scale(1,1.04)" font-size="43">120 <tspan font-family="Noto Serif CJK SC, serif" font-size="44" dx="-1.5">μ</tspan><tspan dx="-2.5">mol photons m</tspan><tspan dy="-21.5" font-size="28">-2</tspan><tspan dy="21.5">s</tspan><tspan dy="-21.5" font-size="28">-1</tspan></text>
<g fill="none" stroke-width="2.2" stroke-dasharray="24.2,9.2">
<polyline points="944.2,1089.3 1054.4,1089.3 1164.6,1089.3 1274.8,1089.3 1385.0,1089.3" stroke="#444444"/>
<polyline points="944.2,1089.0 1054.4,1089.0 1164.6,1089.0 1274.8,1089.0 1385.0,1077.5" stroke="#f07676"/>
<polyline points="944.2,1089.0 1054.4,1068.8 1164.6,1067.0 1274.8,1054.5 1385.0,955.0" stroke="#000000"/>
<polyline points="944.2,1089.0 1054.4,1049.6 1164.6,1049.2 1274.8,1045.2 1385.0,929.5" stroke="#00b400"/>
</g>
<circle cx="944.2" cy="1089.3" r="14.45" fill="#626262" stroke="#000" stroke-width="2.5"/>
<circle cx="944.2" cy="1089.3" r="14.45" fill="#626262" stroke="#000" stroke-width="2.5"/>
<circle cx="1054.4" cy="1089.3" r="14.45" fill="#626262" stroke="#000" stroke-width="2.5"/>
<circle cx="1054.4" cy="1089.3" r="14.45" fill="#626262" stroke="#000" stroke-width="2.5"/>
<circle cx="1164.6" cy="1089.3" r="14.45" fill="#626262" stroke="#000" stroke-width="2.5"/>
<circle cx="1164.6" cy="1089.3" r="14.45" fill="#626262" stroke="#000" stroke-width="2.5"/>
<circle cx="1274.8" cy="1089.3" r="14.45" fill="#626262" stroke="#000" stroke-width="2.5"/>
<circle cx="1274.8" cy="1089.3" r="14.45" fill="#626262" stroke="#000" stroke-width="2.5"/>
<circle cx="1385.0" cy="1089.3" r="14.45" fill="#626262" stroke="#000" stroke-width="2.5"/>
<circle cx="1385.0" cy="1089.3" r="14.45" fill="#626262" stroke="#000" stroke-width="2.5"/>
<path d="M929.8,1080.7H958.6L944.2,1105.6Z" fill="#ff8080" stroke="#000" stroke-width="2.5" stroke-linejoin="miter"/>
<path d="M929.8,1080.7H958.6L944.2,1105.6Z" fill="#ff8080" stroke="#000" stroke-width="2.5" stroke-linejoin="miter"/>
<path d="M1040.0,1080.7H1068.8L1054.4,1105.6Z" fill="#ff8080" stroke="#000" stroke-width="2.5" stroke-linejoin="miter"/>
<path d="M1040.0,1080.7H1068.8L1054.4,1105.6Z" fill="#ff8080" stroke="#000" stroke-width="2.5" stroke-linejoin="miter"/>
<path d="M1150.2,1080.7H1179.0L1164.6,1105.6Z" fill="#ff8080" stroke="#000" stroke-width="2.5" stroke-linejoin="miter"/>
<path d="M1150.2,1080.7H1179.0L1164.6,1105.6Z" fill="#ff8080" stroke="#000" stroke-width="2.5" stroke-linejoin="miter"/>
<path d="M1260.4,1080.7H1289.2L1274.8,1105.6Z" fill="#ff8080" stroke="#000" stroke-width="2.5" stroke-linejoin="miter"/>
<path d="M1260.4,1080.7H1289.2L1274.8,1105.6Z" fill="#ff8080" stroke="#000" stroke-width="2.5" stroke-linejoin="miter"/>
<path d="M1370.6,1067.7H1399.4L1385.0,1092.6Z" fill="#ff8080" stroke="#000" stroke-width="2.5" stroke-linejoin="miter"/>
<path d="M1370.6,1070.7H1399.4L1385.0,1095.6Z" fill="#ff8080" stroke="#000" stroke-width="2.5" stroke-linejoin="miter"/>
<rect x="931.0" y="1075.8" width="26.5" height="26.5" fill="#fff" stroke="#000" stroke-width="2.5" stroke-linejoin="round"/>
<rect x="931.0" y="1075.8" width="26.5" height="26.5" fill="#fff" stroke="#000" stroke-width="2.5" stroke-linejoin="round"/>
<rect x="1041.2" y="1049.3" width="26.5" height="26.5" fill="#fff" stroke="#000" stroke-width="2.5" stroke-linejoin="round"/>
<rect x="1041.2" y="1061.8" width="26.5" height="26.5" fill="#fff" stroke="#000" stroke-width="2.5" stroke-linejoin="round"/>
<rect x="1151.4" y="1050.8" width="26.5" height="26.5" fill="#fff" stroke="#000" stroke-width="2.5" stroke-linejoin="round"/>
<rect x="1151.4" y="1056.8" width="26.5" height="26.5" fill="#fff" stroke="#000" stroke-width="2.5" stroke-linejoin="round"/>
<rect x="1261.6" y="1039.8" width="26.5" height="26.5" fill="#fff" stroke="#000" stroke-width="2.5" stroke-linejoin="round"/>
<rect x="1261.6" y="1042.8" width="26.5" height="26.5" fill="#fff" stroke="#000" stroke-width="2.5" stroke-linejoin="round"/>
<rect x="1371.8" y="952.5" width="26.5" height="26.5" fill="#fff" stroke="#000" stroke-width="2.5" stroke-linejoin="round"/>
<rect x="1371.8" y="931.0" width="26.5" height="26.5" fill="#fff" stroke="#000" stroke-width="2.5" stroke-linejoin="round"/>
<path d="M944.2,1072.1L961.1,1089.0L944.2,1105.9L927.3,1089.0Z" fill="#00c000" stroke="#000" stroke-width="2.5" stroke-linejoin="miter"/>
<path d="M944.2,1072.1L961.1,1089.0L944.2,1105.9L927.3,1089.0Z" fill="#00c000" stroke="#000" stroke-width="2.5" stroke-linejoin="miter"/>
<path d="M1054.4,1032.7L1071.3,1049.6L1054.4,1066.5L1037.5,1049.6Z" fill="#00c000" stroke="#000" stroke-width="2.5" stroke-linejoin="miter"/>
<path d="M1054.4,1032.7L1071.3,1049.6L1054.4,1066.5L1037.5,1049.6Z" fill="#00c000" stroke="#000" stroke-width="2.5" stroke-linejoin="miter"/>
<path d="M1164.6,1046.7L1181.5,1063.6L1164.6,1080.5L1147.7,1063.6Z" fill="#00c000" stroke="#000" stroke-width="2.5" stroke-linejoin="miter"/>
<path d="M1164.6,1017.9L1181.5,1034.8L1164.6,1051.7L1147.7,1034.8Z" fill="#00c000" stroke="#000" stroke-width="2.5" stroke-linejoin="miter"/>
<path d="M1274.8,1015.0L1291.7,1031.9L1274.8,1048.8L1257.9,1031.9Z" fill="#00c000" stroke="#000" stroke-width="2.5" stroke-linejoin="miter"/>
<path d="M1274.8,1041.5L1291.7,1058.4L1274.8,1075.3L1257.9,1058.4Z" fill="#00c000" stroke="#000" stroke-width="2.5" stroke-linejoin="miter"/>
<path d="M1385.0,912.4L1401.9,929.3L1385.0,946.2L1368.1,929.3Z" fill="#00c000" stroke="#000" stroke-width="2.5" stroke-linejoin="miter"/>
<path d="M1385.0,891.1L1401.9,908.0L1385.0,924.9L1368.1,908.0Z" fill="#00c000" stroke="#000" stroke-width="2.5" stroke-linejoin="miter"/>
<rect x="911.7" y="1116.9" width="507.29999999999995" height="455.0999999999999" fill="none" stroke="#000" stroke-width="2.5"/>
<line x1="895.2" y1="1142.7" x2="911.7" y2="1142.7" stroke="#000" stroke-width="2.5"/>
<text transform="translate(874.4,1156.9) scale(1,1.04)" font-size="43" text-anchor="end">600</text>
<line x1="895.2" y1="1243.3" x2="911.7" y2="1243.3" stroke="#000" stroke-width="2.5"/>
<text transform="translate(874.4,1257.5) scale(1,1.04)" font-size="43" text-anchor="end">450</text>
<line x1="895.2" y1="1343.9" x2="911.7" y2="1343.9" stroke="#000" stroke-width="2.5"/>
<text transform="translate(874.4,1358.1) scale(1,1.04)" font-size="43" text-anchor="end">300</text>
<line x1="895.2" y1="1444.5" x2="911.7" y2="1444.5" stroke="#000" stroke-width="2.5"/>
<text transform="translate(874.4,1458.7) scale(1,1.04)" font-size="43" text-anchor="end">150</text>
<line x1="895.2" y1="1545.1" x2="911.7" y2="1545.1" stroke="#000" stroke-width="2.5"/>
<text transform="translate(874.4,1559.3) scale(1,1.04)" font-size="43" text-anchor="end">0</text>
<line x1="944.2" y1="1572.0" x2="944.2" y2="1587.5" stroke="#000" stroke-width="2.5"/>
<line x1="1054.4" y1="1572.0" x2="1054.4" y2="1587.5" stroke="#000" stroke-width="2.5"/>
<line x1="1164.6" y1="1572.0" x2="1164.6" y2="1587.5" stroke="#000" stroke-width="2.5"/>
<line x1="1274.8" y1="1572.0" x2="1274.8" y2="1587.5" stroke="#000" stroke-width="2.5"/>
<line x1="1385.0" y1="1572.0" x2="1385.0" y2="1587.5" stroke="#000" stroke-width="2.5"/>
<text transform="translate(939.4,1176.9) scale(1,1.04)" font-size="43">240 <tspan font-family="Noto Serif CJK SC, serif" font-size="44" dx="-1.5">μ</tspan><tspan dx="-2.5">mol photons m</tspan><tspan dy="-21.5" font-size="28">-2</tspan><tspan dy="21.5">s</tspan><tspan dy="-21.5" font-size="28">-1</tspan></text>
<g fill="none" stroke-width="2.2" stroke-dasharray="24.2,9.2">
<polyline points="944.2,1545.0 1054.4,1545.0 1164.6,1504.0 1274.8,1544.5 1385.0,1544.5" stroke="#444444"/>
<polyline points="944.2,1545.0 1054.4,1545.0 1164.6,1482.0 1274.8,1479.1 1385.0,1511.8" stroke="#f07676"/>
<polyline points="944.2,1544.5 1054.4,1533.8 1164.6,1495.2 1274.8,1388.5 1385.0,1387.9" stroke="#000000"/>
<polyline points="944.2,1544.5 1054.4,1506.2 1164.6,1402.4 1274.8,1313.2 1385.0,1365.0" stroke="#00b400"/>
</g>
<circle cx="944.2" cy="1545.0" r="14.45" fill="#626262" stroke="#000" stroke-width="2.5"/>
<circle cx="944.2" cy="1545.0" r="14.45" fill="#626262" stroke="#000" stroke-width="2.5"/>
<circle cx="1054.4" cy="1545.0" r="14.45" fill="#626262" stroke="#000" stroke-width="2.5"/>
<circle cx="1054.4" cy="1545.0" r="14.45" fill="#626262" stroke="#000" stroke-width="2.5"/>
<circle cx="1164.6" cy="1502.0" r="14.45" fill="#626262" stroke="#000" stroke-width="2.5"/>
<circle cx="1164.6" cy="1506.0" r="14.45" fill="#626262" stroke="#000" stroke-width="2.5"/>
<circle cx="1274.8" cy="1544.0" r="14.45" fill="#626262" stroke="#000" stroke-width="2.5"/>
<circle cx="1274.8" cy="1545.0" r="14.45" fill="#626262" stroke="#000" stroke-width="2.5"/>
<circle cx="1385.0" cy="1544.0" r="14.45" fill="#626262" stroke="#000" stroke-width="2.5"/>
<circle cx="1385.0" cy="1545.0" r="14.45" fill="#626262" stroke="#000" stroke-width="2.5"/>
<path d="M929.8,1536.7H958.6L944.2,1561.6Z" fill="#ff8080" stroke="#000" stroke-width="2.5" stroke-linejoin="miter"/>
<path d="M929.8,1536.7H958.6L944.2,1561.6Z" fill="#ff8080" stroke="#000" stroke-width="2.5" stroke-linejoin="miter"/>
<path d="M1040.0,1535.7H1068.8L1054.4,1560.6Z" fill="#ff8080" stroke="#000" stroke-width="2.5" stroke-linejoin="miter"/>
<path d="M1040.0,1537.7H1068.8L1054.4,1562.6Z" fill="#ff8080" stroke="#000" stroke-width="2.5" stroke-linejoin="miter"/>
<path d="M1150.2,1471.7H1179.0L1164.6,1496.6Z" fill="#ff8080" stroke="#000" stroke-width="2.5" stroke-linejoin="miter"/>
<path d="M1150.2,1475.7H1179.0L1164.6,1500.6Z" fill="#ff8080" stroke="#000" stroke-width="2.5" stroke-linejoin="miter"/>
<path d="M1260.4,1452.9H1289.2L1274.8,1477.8Z" fill="#ff8080" stroke="#000" stroke-width="2.5" stroke-linejoin="miter"/>
<path d="M1260.4,1488.7H1289.2L1274.8,1513.6Z" fill="#ff8080" stroke="#000" stroke-width="2.5" stroke-linejoin="miter"/>
<path d="M1370.6,1497.6H1399.4L1385.0,1522.5Z" fill="#ff8080" stroke="#000" stroke-width="2.5" stroke-linejoin="miter"/>
<path d="M1370.6,1509.3H1399.4L1385.0,1534.2Z" fill="#ff8080" stroke="#000" stroke-width="2.5" stroke-linejoin="miter"/>
<rect x="931.0" y="1530.8" width="26.5" height="26.5" fill="#fff" stroke="#000" stroke-width="2.5" stroke-linejoin="round"/>
<rect x="931.0" y="1531.8" width="26.5" height="26.5" fill="#fff" stroke="#000" stroke-width="2.5" stroke-linejoin="round"/>
<rect x="1041.2" y="1512.8" width="26.5" height="26.5" fill="#fff" stroke="#000" stroke-width="2.5" stroke-linejoin="round"/>
<rect x="1041.2" y="1528.2" width="26.5" height="26.5" fill="#fff" stroke="#000" stroke-width="2.5" stroke-linejoin="round"/>
<rect x="1151.4" y="1471.8" width="26.5" height="26.5" fill="#fff" stroke="#000" stroke-width="2.5" stroke-linejoin="round"/>
<rect x="1151.4" y="1492.2" width="26.5" height="26.5" fill="#fff" stroke="#000" stroke-width="2.5" stroke-linejoin="round"/>
<rect x="1261.6" y="1343.8" width="26.5" height="26.5" fill="#fff" stroke="#000" stroke-width="2.5" stroke-linejoin="round"/>
<rect x="1261.6" y="1406.8" width="26.5" height="26.5" fill="#fff" stroke="#000" stroke-width="2.5" stroke-linejoin="round"/>
<rect x="1371.8" y="1388.0" width="26.5" height="26.5" fill="#fff" stroke="#000" stroke-width="2.5" stroke-linejoin="round"/>
<rect x="1371.8" y="1361.2" width="26.5" height="26.5" fill="#fff" stroke="#000" stroke-width="2.5" stroke-linejoin="round"/>
<path d="M944.2,1527.1L961.1,1544.0L944.2,1560.9L927.3,1544.0Z" fill="#00c000" stroke="#000" stroke-width="2.5" stroke-linejoin="miter"/>
<path d="M944.2,1528.1L961.1,1545.0L944.2,1561.9L927.3,1545.0Z" fill="#00c000" stroke="#000" stroke-width="2.5" stroke-linejoin="miter"/>
<path d="M1054.4,1483.8L1071.3,1500.7L1054.4,1517.6L1037.5,1500.7Z" fill="#00c000" stroke="#000" stroke-width="2.5" stroke-linejoin="miter"/>
<path d="M1054.4,1494.7L1071.3,1511.6L1054.4,1528.5L1037.5,1511.6Z" fill="#00c000" stroke="#000" stroke-width="2.5" stroke-linejoin="miter"/>
<path d="M1164.6,1366.7L1181.5,1383.6L1164.6,1400.5L1147.7,1383.6Z" fill="#00c000" stroke="#000" stroke-width="2.5" stroke-linejoin="miter"/>
<path d="M1164.6,1404.3L1181.5,1421.2L1164.6,1438.1L1147.7,1421.2Z" fill="#00c000" stroke="#000" stroke-width="2.5" stroke-linejoin="miter"/>
<path d="M1274.8,1278.0L1291.7,1294.9L1274.8,1311.8L1257.9,1294.9Z" fill="#00c000" stroke="#000" stroke-width="2.5" stroke-linejoin="miter"/>
<path d="M1274.8,1314.7L1291.7,1331.6L1274.8,1348.5L1257.9,1331.6Z" fill="#00c000" stroke="#000" stroke-width="2.5" stroke-linejoin="miter"/>
<path d="M1385.0,1308.5L1401.9,1325.4L1385.0,1342.3L1368.1,1325.4Z" fill="#00c000" stroke="#000" stroke-width="2.5" stroke-linejoin="miter"/>
<path d="M1385.0,1347.9L1401.9,1364.8L1385.0,1381.7L1368.1,1364.8Z" fill="#00c000" stroke="#000" stroke-width="2.5" stroke-linejoin="miter"/>
<text transform="translate(944.2,1646.0) scale(1,1.04)" font-size="43" text-anchor="middle">0</text>
<text transform="translate(1054.4,1646.0) scale(1,1.04)" font-size="43" text-anchor="middle">1</text>
<text transform="translate(1164.6,1646.0) scale(1,1.04)" font-size="43" text-anchor="middle">2</text>
<text transform="translate(1274.8,1646.0) scale(1,1.04)" font-size="43" text-anchor="middle">3</text>
<text transform="translate(1385.0,1646.0) scale(1,1.04)" font-size="43" text-anchor="middle">4</text>
<text transform="translate(1165.8,1727.5) scale(1,1.04)" font-size="43" text-anchor="middle">Exposure time (h)</text>
<rect x="1586.5" y="7.3" width="506.0999999999999" height="117.3" fill="#fff" stroke="#000" stroke-width="2.5"/>
<rect x="1586.5" y="124.6" width="506.0999999999999" height="80.1" fill="#c6c6c6" stroke="#000" stroke-width="2.5"/>
<rect x="1588.7" y="126.8" width="501.69999999999993" height="75.69999999999999" fill="none" stroke="#d4d4d4" stroke-width="1.6"/>
<text transform="translate(1839.5,88.8) scale(1,1.04)" font-size="72" text-anchor="middle">PC-SH</text>
<circle cx="1652.8" cy="166.7" r="14.45" fill="#626262" stroke="#000" stroke-width="2.5"/>
<text transform="translate(1672.9,182.1) scale(1,1.04)" font-size="43">A</text>
<path d="M1749.6,158.4H1778.4L1764.0,183.3Z" fill="#ff8080" stroke="#000" stroke-width="2.5" stroke-linejoin="miter"/>
<text transform="translate(1784.5,182.1) scale(1,1.04)" font-size="43">B</text>
<rect x="1861.0" y="153.4" width="26.5" height="26.5" fill="#fff" stroke="#000" stroke-width="2.5" stroke-linejoin="round"/>
<text transform="translate(1892.8,182.1) scale(1,1.04)" font-size="43">C</text>
<path d="M1989.3,149.8L2006.2,166.7L1989.3,183.6L1972.4,166.7Z" fill="#00c000" stroke="#000" stroke-width="2.5" stroke-linejoin="miter"/>
<text transform="translate(2012.8,182.1) scale(1,1.04)" font-size="43">D</text>
<rect x="1586.5" y="204.7" width="506.0999999999999" height="456.3" fill="none" stroke="#000" stroke-width="2.5"/>
<line x1="1570.0" y1="230.2" x2="1586.5" y2="230.2" stroke="#000" stroke-width="2.5"/>
<text transform="translate(1549.2,244.4) scale(1,1.04)" font-size="43" text-anchor="end">4000</text>
<line x1="1570.0" y1="331.5" x2="1586.5" y2="331.5" stroke="#000" stroke-width="2.5"/>
<text transform="translate(1549.2,345.7) scale(1,1.04)" font-size="43" text-anchor="end">3000</text>
<line x1="1570.0" y1="432.8" x2="1586.5" y2="432.8" stroke="#000" stroke-width="2.5"/>
<text transform="translate(1549.2,447.0) scale(1,1.04)" font-size="43" text-anchor="end">2000</text>
<line x1="1570.0" y1="534.1" x2="1586.5" y2="534.1" stroke="#000" stroke-width="2.5"/>
<text transform="translate(1549.2,548.3) scale(1,1.04)" font-size="43" text-anchor="end">1000</text>
<line x1="1570.0" y1="635.4" x2="1586.5" y2="635.4" stroke="#000" stroke-width="2.5"/>
<text transform="translate(1549.2,649.6) scale(1,1.04)" font-size="43" text-anchor="end">0</text>
<line x1="1619.0" y1="661.0" x2="1619.0" y2="676.5" stroke="#000" stroke-width="2.5"/>
<line x1="1729.2" y1="661.0" x2="1729.2" y2="676.5" stroke="#000" stroke-width="2.5"/>
<line x1="1839.4" y1="661.0" x2="1839.4" y2="676.5" stroke="#000" stroke-width="2.5"/>
<line x1="1949.6" y1="661.0" x2="1949.6" y2="676.5" stroke="#000" stroke-width="2.5"/>
<line x1="2059.8" y1="661.0" x2="2059.8" y2="676.5" stroke="#000" stroke-width="2.5"/>
<text transform="translate(1620.4,263.7) scale(1,1.04)" font-size="43">60 <tspan font-family="Noto Serif CJK SC, serif" font-size="44" dx="-1.5">μ</tspan><tspan dx="-2.5">mol photons m</tspan><tspan dy="-21.5" font-size="28">-2</tspan><tspan dy="21.5">s</tspan><tspan dy="-21.5" font-size="28">-1</tspan></text>
<g fill="none" stroke-width="2.2" stroke-dasharray="24.2,9.2">
<polyline points="1619.0,634.7 1729.2,627.0 1839.4,615.5 1949.6,626.9 2059.8,622.6" stroke="#444444"/>
<polyline points="1619.0,634.7 1729.2,627.2 1839.4,594.5 1949.6,611.0 2059.8,588.3" stroke="#f07676"/>
<polyline points="1619.0,634.7 1729.2,596.0 1839.4,592.5 1949.6,558.0 2059.8,486.5" stroke="#000000"/>
<polyline points="1619.0,634.7 1729.2,583.1 1839.4,583.6 1949.6,563.5 2059.8,476.0" stroke="#00b400"/>
</g>
<circle cx="1619.0" cy="634.7" r="14.45" fill="#626262" stroke="#000" stroke-width="2.5"/>
<circle cx="1619.0" cy="634.7" r="14.45" fill="#626262" stroke="#000" stroke-width="2.5"/>
<circle cx="1729.2" cy="623.0" r="14.45" fill="#626262" stroke="#000" stroke-width="2.5"/>
<circle cx="1729.2" cy="631.0" r="14.45" fill="#626262" stroke="#000" stroke-width="2.5"/>
<circle cx="1839.4" cy="613.4" r="14.45" fill="#626262" stroke="#000" stroke-width="2.5"/>
<circle cx="1839.4" cy="614.0" r="14.45" fill="#626262" stroke="#000" stroke-width="2.5"/>
<circle cx="1949.6" cy="622.0" r="14.45" fill="#626262" stroke="#000" stroke-width="2.5"/>
<circle cx="1949.6" cy="631.7" r="14.45" fill="#626262" stroke="#000" stroke-width="2.5"/>
<circle cx="2059.8" cy="633.0" r="14.45" fill="#626262" stroke="#000" stroke-width="2.5"/>
<circle cx="2059.8" cy="612.3" r="14.45" fill="#626262" stroke="#000" stroke-width="2.5"/>
<path d="M1604.6,626.4H1633.4L1619.0,651.3Z" fill="#ff8080" stroke="#000" stroke-width="2.5" stroke-linejoin="miter"/>
<path d="M1604.6,626.4H1633.4L1619.0,651.3Z" fill="#ff8080" stroke="#000" stroke-width="2.5" stroke-linejoin="miter"/>
<path d="M1714.8,618.2H1743.6L1729.2,643.1Z" fill="#ff8080" stroke="#000" stroke-width="2.5" stroke-linejoin="miter"/>
<path d="M1714.8,619.7H1743.6L1729.2,644.6Z" fill="#ff8080" stroke="#000" stroke-width="2.5" stroke-linejoin="miter"/>
<path d="M1825.0,583.7H1853.8L1839.4,608.6Z" fill="#ff8080" stroke="#000" stroke-width="2.5" stroke-linejoin="miter"/>
<path d="M1825.0,588.7H1853.8L1839.4,613.6Z" fill="#ff8080" stroke="#000" stroke-width="2.5" stroke-linejoin="miter"/>
<path d="M1935.2,601.2H1964.0L1949.6,626.1Z" fill="#ff8080" stroke="#000" stroke-width="2.5" stroke-linejoin="miter"/>
<path d="M1935.2,604.2H1964.0L1949.6,629.1Z" fill="#ff8080" stroke="#000" stroke-width="2.5" stroke-linejoin="miter"/>
<path d="M2045.4,578.3H2074.2L2059.8,603.2Z" fill="#ff8080" stroke="#000" stroke-width="2.5" stroke-linejoin="miter"/>
<path d="M2045.4,581.7H2074.2L2059.8,606.6Z" fill="#ff8080" stroke="#000" stroke-width="2.5" stroke-linejoin="miter"/>
<rect x="1605.8" y="621.5" width="26.5" height="26.5" fill="#fff" stroke="#000" stroke-width="2.5" stroke-linejoin="round"/>
<rect x="1605.8" y="621.5" width="26.5" height="26.5" fill="#fff" stroke="#000" stroke-width="2.5" stroke-linejoin="round"/>
<rect x="1716.0" y="579.0" width="26.5" height="26.5" fill="#fff" stroke="#000" stroke-width="2.5" stroke-linejoin="round"/>
<rect x="1716.0" y="579.0" width="26.5" height="26.5" fill="#fff" stroke="#000" stroke-width="2.5" stroke-linejoin="round"/>
<rect x="1826.2" y="577.5" width="26.5" height="26.5" fill="#fff" stroke="#000" stroke-width="2.5" stroke-linejoin="round"/>
<rect x="1826.2" y="581.0" width="26.5" height="26.5" fill="#fff" stroke="#000" stroke-width="2.5" stroke-linejoin="round"/>
<rect x="1936.3" y="541.6" width="26.5" height="26.5" fill="#fff" stroke="#000" stroke-width="2.5" stroke-linejoin="round"/>
<rect x="1936.3" y="547.8" width="26.5" height="26.5" fill="#fff" stroke="#000" stroke-width="2.5" stroke-linejoin="round"/>
<rect x="2046.6" y="481.4" width="26.5" height="26.5" fill="#fff" stroke="#000" stroke-width="2.5" stroke-linejoin="round"/>
<rect x="2046.6" y="465.1" width="26.5" height="26.5" fill="#fff" stroke="#000" stroke-width="2.5" stroke-linejoin="round"/>
<path d="M1619.0,617.8L1635.9,634.7L1619.0,651.6L1602.1,634.7Z" fill="#00c000" stroke="#000" stroke-width="2.5" stroke-linejoin="miter"/>
<path d="M1619.0,617.8L1635.9,634.7L1619.0,651.6L1602.1,634.7Z" fill="#00c000" stroke="#000" stroke-width="2.5" stroke-linejoin="miter"/>
<path d="M1729.2,567.4L1746.1,584.3L1729.2,601.2L1712.3,584.3Z" fill="#00c000" stroke="#000" stroke-width="2.5" stroke-linejoin="miter"/>
<path d="M1729.2,565.1L1746.1,582.0L1729.2,598.9L1712.3,582.0Z" fill="#00c000" stroke="#000" stroke-width="2.5" stroke-linejoin="miter"/>
<path d="M1839.4,579.5L1856.3,596.4L1839.4,613.3L1822.5,596.4Z" fill="#00c000" stroke="#000" stroke-width="2.5" stroke-linejoin="miter"/>
<path d="M1839.4,553.9L1856.3,570.8L1839.4,587.7L1822.5,570.8Z" fill="#00c000" stroke="#000" stroke-width="2.5" stroke-linejoin="miter"/>
<path d="M1949.6,545.6L1966.5,562.5L1949.6,579.4L1932.7,562.5Z" fill="#00c000" stroke="#000" stroke-width="2.5" stroke-linejoin="miter"/>
<path d="M1949.6,547.6L1966.5,564.5L1949.6,581.4L1932.7,564.5Z" fill="#00c000" stroke="#000" stroke-width="2.5" stroke-linejoin="miter"/>
<path d="M2059.8,459.8L2076.7,476.7L2059.8,493.6L2042.9,476.7Z" fill="#00c000" stroke="#000" stroke-width="2.5" stroke-linejoin="miter"/>
<path d="M2059.8,450.1L2076.7,467.0L2059.8,483.9L2042.9,467.0Z" fill="#00c000" stroke="#000" stroke-width="2.5" stroke-linejoin="miter"/>
<rect x="1586.5" y="661.0" width="506.0999999999999" height="455.9000000000001" fill="none" stroke="#000" stroke-width="2.5"/>
<line x1="1570.0" y1="686.1" x2="1586.5" y2="686.1" stroke="#000" stroke-width="2.5"/>
<text transform="translate(1549.2,700.3) scale(1,1.04)" font-size="43" text-anchor="end">4000</text>
<line x1="1570.0" y1="787.3" x2="1586.5" y2="787.3" stroke="#000" stroke-width="2.5"/>
<text transform="translate(1549.2,801.5) scale(1,1.04)" font-size="43" text-anchor="end">3000</text>
<line x1="1570.0" y1="888.5" x2="1586.5" y2="888.5" stroke="#000" stroke-width="2.5"/>
<text transform="translate(1549.2,902.8) scale(1,1.04)" font-size="43" text-anchor="end">2000</text>
<line x1="1570.0" y1="989.8" x2="1586.5" y2="989.8" stroke="#000" stroke-width="2.5"/>
<text transform="translate(1549.2,1004.0) scale(1,1.04)" font-size="43" text-anchor="end">1000</text>
<line x1="1570.0" y1="1091.0" x2="1586.5" y2="1091.0" stroke="#000" stroke-width="2.5"/>
<text transform="translate(1549.2,1105.2) scale(1,1.04)" font-size="43" text-anchor="end">0</text>
<line x1="1619.0" y1="1116.9" x2="1619.0" y2="1132.4" stroke="#000" stroke-width="2.5"/>
<line x1="1729.2" y1="1116.9" x2="1729.2" y2="1132.4" stroke="#000" stroke-width="2.5"/>
<line x1="1839.4" y1="1116.9" x2="1839.4" y2="1132.4" stroke="#000" stroke-width="2.5"/>
<line x1="1949.6" y1="1116.9" x2="1949.6" y2="1132.4" stroke="#000" stroke-width="2.5"/>
<line x1="2059.8" y1="1116.9" x2="2059.8" y2="1132.4" stroke="#000" stroke-width="2.5"/>
<text transform="translate(1610.3,718.8) scale(1,1.04)" font-size="43">120 <tspan font-family="Noto Serif CJK SC, serif" font-size="44" dx="-1.5">μ</tspan><tspan dx="-2.5">mol photons m</tspan><tspan dy="-21.5" font-size="28">-2</tspan><tspan dy="21.5">s</tspan><tspan dy="-21.5" font-size="28">-1</tspan></text>
<g fill="none" stroke-width="2.2" stroke-dasharray="24.2,9.2">
<polyline points="1619.0,1090.0 1729.2,1080.0 1839.4,1081.5 1949.6,1087.5 2059.8,1080.1" stroke="#444444"/>
<polyline points="1619.0,1090.0 1729.2,1079.0 1839.4,1078.2 1949.6,1080.4 2059.8,1052.5" stroke="#f07676"/>
<polyline points="1619.0,1090.0 1729.2,1059.1 1839.4,1051.0 1949.6,1017.0 2059.8,907.0" stroke="#000000"/>
<polyline points="1619.0,1090.0 1729.2,1029.0 1839.4,1024.2 1949.6,997.4 2059.8,876.0" stroke="#00b400"/>
</g>
<circle cx="1619.0" cy="1090.0" r="14.45" fill="#626262" stroke="#000" stroke-width="2.5"/>
<circle cx="1619.0" cy="1090.0" r="14.45" fill="#626262" stroke="#000" stroke-width="2.5"/>
<circle cx="1729.2" cy="1078.0" r="14.45" fill="#626262" stroke="#000" stroke-width="2.5"/>
<circle cx="1729.2" cy="1082.0" r="14.45" fill="#626262" stroke="#000" stroke-width="2.5"/>
<circle cx="1839.4" cy="1080.0" r="14.45" fill="#626262" stroke="#000" stroke-width="2.5"/>
<circle cx="1839.4" cy="1083.0" r="14.45" fill="#626262" stroke="#000" stroke-width="2.5"/>
<circle cx="1949.6" cy="1086.0" r="14.45" fill="#626262" stroke="#000" stroke-width="2.5"/>
<circle cx="1949.6" cy="1089.0" r="14.45" fill="#626262" stroke="#000" stroke-width="2.5"/>
<circle cx="2059.8" cy="1073.7" r="14.45" fill="#626262" stroke="#000" stroke-width="2.5"/>
<circle cx="2059.8" cy="1086.5" r="14.45" fill="#626262" stroke="#000" stroke-width="2.5"/>
<path d="M1604.6,1081.7H1633.4L1619.0,1106.6Z" fill="#ff8080" stroke="#000" stroke-width="2.5" stroke-linejoin="miter"/>
<path d="M1604.6,1081.7H1633.4L1619.0,1106.6Z" fill="#ff8080" stroke="#000" stroke-width="2.5" stroke-linejoin="miter"/>
<path d="M1714.8,1068.7H1743.6L1729.2,1093.6Z" fill="#ff8080" stroke="#000" stroke-width="2.5" stroke-linejoin="miter"/>
<path d="M1714.8,1072.7H1743.6L1729.2,1097.6Z" fill="#ff8080" stroke="#000" stroke-width="2.5" stroke-linejoin="miter"/>
<path d="M1825.0,1074.2H1853.8L1839.4,1099.1Z" fill="#ff8080" stroke="#000" stroke-width="2.5" stroke-linejoin="miter"/>
<path d="M1825.0,1065.5H1853.8L1839.4,1090.4Z" fill="#ff8080" stroke="#000" stroke-width="2.5" stroke-linejoin="miter"/>
<path d="M1935.2,1077.3H1964.0L1949.6,1102.2Z" fill="#ff8080" stroke="#000" stroke-width="2.5" stroke-linejoin="miter"/>
<path d="M1935.2,1067.0H1964.0L1949.6,1091.9Z" fill="#ff8080" stroke="#000" stroke-width="2.5" stroke-linejoin="miter"/>
<path d="M2045.4,1042.7H2074.2L2059.8,1067.6Z" fill="#ff8080" stroke="#000" stroke-width="2.5" stroke-linejoin="miter"/>
<path d="M2045.4,1045.7H2074.2L2059.8,1070.6Z" fill="#ff8080" stroke="#000" stroke-width="2.5" stroke-linejoin="miter"/>
<rect x="1605.8" y="1076.8" width="26.5" height="26.5" fill="#fff" stroke="#000" stroke-width="2.5" stroke-linejoin="round"/>
<rect x="1605.8" y="1076.8" width="26.5" height="26.5" fill="#fff" stroke="#000" stroke-width="2.5" stroke-linejoin="round"/>
<rect x="1716.0" y="1031.0" width="26.5" height="26.5" fill="#fff" stroke="#000" stroke-width="2.5" stroke-linejoin="round"/>
<rect x="1716.0" y="1060.8" width="26.5" height="26.5" fill="#fff" stroke="#000" stroke-width="2.5" stroke-linejoin="round"/>
<rect x="1826.2" y="1033.8" width="26.5" height="26.5" fill="#fff" stroke="#000" stroke-width="2.5" stroke-linejoin="round"/>
<rect x="1826.2" y="1036.8" width="26.5" height="26.5" fill="#fff" stroke="#000" stroke-width="2.5" stroke-linejoin="round"/>
<rect x="1936.3" y="1008.8" width="26.5" height="26.5" fill="#fff" stroke="#000" stroke-width="2.5" stroke-linejoin="round"/>
<rect x="1936.3" y="1010.8" width="26.5" height="26.5" fill="#fff" stroke="#000" stroke-width="2.5" stroke-linejoin="round"/>
<rect x="2046.6" y="892.5" width="26.5" height="26.5" fill="#fff" stroke="#000" stroke-width="2.5" stroke-linejoin="round"/>
<rect x="2046.6" y="895.0" width="26.5" height="26.5" fill="#fff" stroke="#000" stroke-width="2.5" stroke-linejoin="round"/>
<path d="M1619.0,1073.1L1635.9,1090.0L1619.0,1106.9L1602.1,1090.0Z" fill="#00c000" stroke="#000" stroke-width="2.5" stroke-linejoin="miter"/>
<path d="M1619.0,1073.1L1635.9,1090.0L1619.0,1106.9L1602.1,1090.0Z" fill="#00c000" stroke="#000" stroke-width="2.5" stroke-linejoin="miter"/>
<path d="M1729.2,1005.8L1746.1,1022.7L1729.2,1039.6L1712.3,1022.7Z" fill="#00c000" stroke="#000" stroke-width="2.5" stroke-linejoin="miter"/>
<path d="M1729.2,1018.4L1746.1,1035.3L1729.2,1052.2L1712.3,1035.3Z" fill="#00c000" stroke="#000" stroke-width="2.5" stroke-linejoin="miter"/>
<path d="M1839.4,1015.5L1856.3,1032.4L1839.4,1049.3L1822.5,1032.4Z" fill="#00c000" stroke="#000" stroke-width="2.5" stroke-linejoin="miter"/>
<path d="M1839.4,999.1L1856.3,1016.0L1839.4,1032.9L1822.5,1016.0Z" fill="#00c000" stroke="#000" stroke-width="2.5" stroke-linejoin="miter"/>
<path d="M1949.6,972.7L1966.5,989.6L1949.6,1006.5L1932.7,989.6Z" fill="#00c000" stroke="#000" stroke-width="2.5" stroke-linejoin="miter"/>
<path d="M1949.6,988.3L1966.5,1005.2L1949.6,1022.1L1932.7,1005.2Z" fill="#00c000" stroke="#000" stroke-width="2.5" stroke-linejoin="miter"/>
<path d="M2059.8,860.5L2076.7,877.4L2059.8,894.3L2042.9,877.4Z" fill="#00c000" stroke="#000" stroke-width="2.5" stroke-linejoin="miter"/>
<path d="M2059.8,850.9L2076.7,867.8L2059.8,884.7L2042.9,867.8Z" fill="#00c000" stroke="#000" stroke-width="2.5" stroke-linejoin="miter"/>
<rect x="1586.5" y="1116.9" width="506.0999999999999" height="455.0999999999999" fill="none" stroke="#000" stroke-width="2.5"/>
<line x1="1570.0" y1="1140.9" x2="1586.5" y2="1140.9" stroke="#000" stroke-width="2.5"/>
<text transform="translate(1549.2,1155.1) scale(1,1.04)" font-size="43" text-anchor="end">4000</text>
<line x1="1570.0" y1="1242.4" x2="1586.5" y2="1242.4" stroke="#000" stroke-width="2.5"/>
<text transform="translate(1549.2,1256.6) scale(1,1.04)" font-size="43" text-anchor="end">3000</text>
<line x1="1570.0" y1="1343.8" x2="1586.5" y2="1343.8" stroke="#000" stroke-width="2.5"/>
<text transform="translate(1549.2,1358.0) scale(1,1.04)" font-size="43" text-anchor="end">2000</text>
<line x1="1570.0" y1="1445.2" x2="1586.5" y2="1445.2" stroke="#000" stroke-width="2.5"/>
<text transform="translate(1549.2,1459.5) scale(1,1.04)" font-size="43" text-anchor="end">1000</text>
<line x1="1570.0" y1="1546.7" x2="1586.5" y2="1546.7" stroke="#000" stroke-width="2.5"/>
<text transform="translate(1549.2,1560.9) scale(1,1.04)" font-size="43" text-anchor="end">0</text>
<line x1="1619.0" y1="1572.0" x2="1619.0" y2="1587.5" stroke="#000" stroke-width="2.5"/>
<line x1="1729.2" y1="1572.0" x2="1729.2" y2="1587.5" stroke="#000" stroke-width="2.5"/>
<line x1="1839.4" y1="1572.0" x2="1839.4" y2="1587.5" stroke="#000" stroke-width="2.5"/>
<line x1="1949.6" y1="1572.0" x2="1949.6" y2="1587.5" stroke="#000" stroke-width="2.5"/>
<line x1="2059.8" y1="1572.0" x2="2059.8" y2="1587.5" stroke="#000" stroke-width="2.5"/>
<text transform="translate(1608.5,1175.5) scale(1,1.04)" font-size="43">240 <tspan font-family="Noto Serif CJK SC, serif" font-size="44" dx="-1.5">μ</tspan><tspan dx="-2.5">mol photons m</tspan><tspan dy="-21.5" font-size="28">-2</tspan><tspan dy="21.5">s</tspan><tspan dy="-21.5" font-size="28">-1</tspan></text>
<g fill="none" stroke-width="2.2" stroke-dasharray="24.2,9.2">
<polyline points="1619.0,1545.5 1729.2,1538.0 1839.4,1488.0 1949.6,1531.3 2059.8,1532.0" stroke="#444444"/>
<polyline points="1619.0,1545.5 1729.2,1535.0 1839.4,1497.0 1949.6,1462.9 2059.8,1470.0" stroke="#f07676"/>
<polyline points="1619.0,1545.5 1729.2,1525.5 1839.4,1512.0 1949.6,1340.8 2059.8,1371.0" stroke="#000000"/>
<polyline points="1619.0,1545.5 1729.2,1497.2 1839.4,1390.5 1949.6,1276.6 2059.8,1333.0" stroke="#00b400"/>
</g>
<circle cx="1619.0" cy="1545.5" r="14.45" fill="#626262" stroke="#000" stroke-width="2.5"/>
<circle cx="1619.0" cy="1545.5" r="14.45" fill="#626262" stroke="#000" stroke-width="2.5"/>
<circle cx="1729.2" cy="1536.0" r="14.45" fill="#626262" stroke="#000" stroke-width="2.5"/>
<circle cx="1729.2" cy="1540.0" r="14.45" fill="#626262" stroke="#000" stroke-width="2.5"/>
<circle cx="1839.4" cy="1479.0" r="14.45" fill="#626262" stroke="#000" stroke-width="2.5"/>
<circle cx="1839.4" cy="1479.0" r="14.45" fill="#626262" stroke="#000" stroke-width="2.5"/>
<circle cx="1949.6" cy="1530.2" r="14.45" fill="#626262" stroke="#000" stroke-width="2.5"/>
<circle cx="1949.6" cy="1532.5" r="14.45" fill="#626262" stroke="#000" stroke-width="2.5"/>
<circle cx="2059.8" cy="1531.0" r="14.45" fill="#626262" stroke="#000" stroke-width="2.5"/>
<circle cx="2059.8" cy="1533.0" r="14.45" fill="#626262" stroke="#000" stroke-width="2.5"/>
<path d="M1604.6,1537.2H1633.4L1619.0,1562.1Z" fill="#ff8080" stroke="#000" stroke-width="2.5" stroke-linejoin="miter"/>
<path d="M1604.6,1537.2H1633.4L1619.0,1562.1Z" fill="#ff8080" stroke="#000" stroke-width="2.5" stroke-linejoin="miter"/>
<path d="M1714.8,1524.7H1743.6L1729.2,1549.6Z" fill="#ff8080" stroke="#000" stroke-width="2.5" stroke-linejoin="miter"/>
<path d="M1714.8,1528.7H1743.6L1729.2,1553.6Z" fill="#ff8080" stroke="#000" stroke-width="2.5" stroke-linejoin="miter"/>
<path d="M1825.0,1487.7H1853.8L1839.4,1512.6Z" fill="#ff8080" stroke="#000" stroke-width="2.5" stroke-linejoin="miter"/>
<path d="M1825.0,1489.7H1853.8L1839.4,1514.6Z" fill="#ff8080" stroke="#000" stroke-width="2.5" stroke-linejoin="miter"/>
<path d="M1935.2,1443.5H1964.0L1949.6,1468.4Z" fill="#ff8080" stroke="#000" stroke-width="2.5" stroke-linejoin="miter"/>
<path d="M1935.2,1465.7H1964.0L1949.6,1490.6Z" fill="#ff8080" stroke="#000" stroke-width="2.5" stroke-linejoin="miter"/>
<path d="M2045.4,1461.7H2074.2L2059.8,1486.6Z" fill="#ff8080" stroke="#000" stroke-width="2.5" stroke-linejoin="miter"/>
<path d="M2045.4,1461.7H2074.2L2059.8,1486.6Z" fill="#ff8080" stroke="#000" stroke-width="2.5" stroke-linejoin="miter"/>
<rect x="1605.8" y="1531.8" width="26.5" height="26.5" fill="#fff" stroke="#000" stroke-width="2.5" stroke-linejoin="round"/>
<rect x="1605.8" y="1532.8" width="26.5" height="26.5" fill="#fff" stroke="#000" stroke-width="2.5" stroke-linejoin="round"/>
<rect x="1716.0" y="1498.8" width="26.5" height="26.5" fill="#fff" stroke="#000" stroke-width="2.5" stroke-linejoin="round"/>
<rect x="1716.0" y="1525.8" width="26.5" height="26.5" fill="#fff" stroke="#000" stroke-width="2.5" stroke-linejoin="round"/>
<rect x="1826.2" y="1496.2" width="26.5" height="26.5" fill="#fff" stroke="#000" stroke-width="2.5" stroke-linejoin="round"/>
<rect x="1826.2" y="1496.2" width="26.5" height="26.5" fill="#fff" stroke="#000" stroke-width="2.5" stroke-linejoin="round"/>
<rect x="1936.3" y="1301.3" width="26.5" height="26.5" fill="#fff" stroke="#000" stroke-width="2.5" stroke-linejoin="round"/>
<rect x="1936.3" y="1353.8" width="26.5" height="26.5" fill="#fff" stroke="#000" stroke-width="2.5" stroke-linejoin="round"/>
<rect x="2046.6" y="1356.8" width="26.5" height="26.5" fill="#fff" stroke="#000" stroke-width="2.5" stroke-linejoin="round"/>
<rect x="2046.6" y="1358.8" width="26.5" height="26.5" fill="#fff" stroke="#000" stroke-width="2.5" stroke-linejoin="round"/>
<path d="M1619.0,1528.1L1635.9,1545.0L1619.0,1561.9L1602.1,1545.0Z" fill="#00c000" stroke="#000" stroke-width="2.5" stroke-linejoin="miter"/>
<path d="M1619.0,1529.1L1635.9,1546.0L1619.0,1562.9L1602.1,1546.0Z" fill="#00c000" stroke="#000" stroke-width="2.5" stroke-linejoin="miter"/>
<path d="M1729.2,1476.7L1746.1,1493.6L1729.2,1510.5L1712.3,1493.6Z" fill="#00c000" stroke="#000" stroke-width="2.5" stroke-linejoin="miter"/>
<path d="M1729.2,1483.8L1746.1,1500.7L1729.2,1517.6L1712.3,1500.7Z" fill="#00c000" stroke="#000" stroke-width="2.5" stroke-linejoin="miter"/>
<path d="M1839.4,1350.2L1856.3,1367.1L1839.4,1384.0L1822.5,1367.1Z" fill="#00c000" stroke="#000" stroke-width="2.5" stroke-linejoin="miter"/>
<path d="M1839.4,1397.1L1856.3,1414.0L1839.4,1430.9L1822.5,1414.0Z" fill="#00c000" stroke="#000" stroke-width="2.5" stroke-linejoin="miter"/>
<path d="M1949.6,1231.4L1966.5,1248.3L1949.6,1265.2L1932.7,1248.3Z" fill="#00c000" stroke="#000" stroke-width="2.5" stroke-linejoin="miter"/>
<path d="M1949.6,1288.0L1966.5,1304.9L1949.6,1321.8L1932.7,1304.9Z" fill="#00c000" stroke="#000" stroke-width="2.5" stroke-linejoin="miter"/>
<path d="M2059.8,1285.9L2076.7,1302.8L2059.8,1319.7L2042.9,1302.8Z" fill="#00c000" stroke="#000" stroke-width="2.5" stroke-linejoin="miter"/>
<path d="M2059.8,1316.3L2076.7,1333.2L2059.8,1350.1L2042.9,1333.2Z" fill="#00c000" stroke="#000" stroke-width="2.5" stroke-linejoin="miter"/>
<text transform="translate(1619.0,1646.0) scale(1,1.04)" font-size="43" text-anchor="middle">0</text>
<text transform="translate(1729.2,1646.0) scale(1,1.04)" font-size="43" text-anchor="middle">1</text>
<text transform="translate(1839.4,1646.0) scale(1,1.04)" font-size="43" text-anchor="middle">2</text>
<text transform="translate(1949.6,1646.0) scale(1,1.04)" font-size="43" text-anchor="middle">3</text>
<text transform="translate(2059.8,1646.0) scale(1,1.04)" font-size="43" text-anchor="middle">4</text>
<text transform="translate(1840.0,1727.5) scale(1,1.04)" font-size="43" text-anchor="middle">Exposure time (h)</text>
</svg></body></html>
